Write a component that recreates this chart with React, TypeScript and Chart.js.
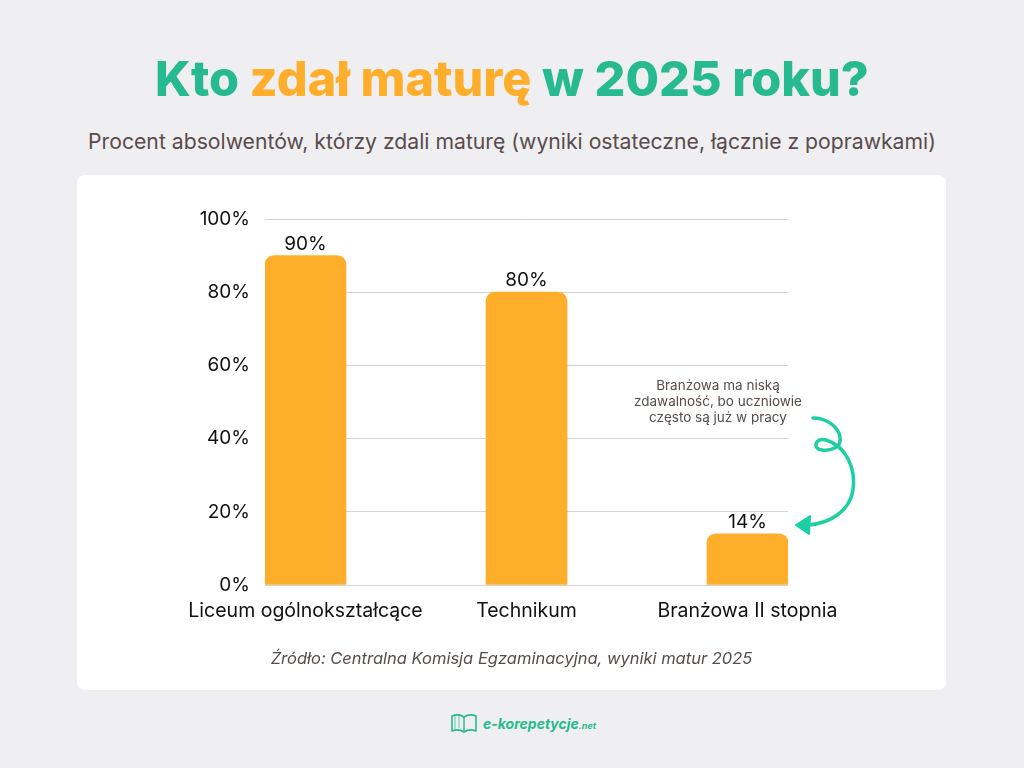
import React, { useEffect, useRef } from "react";
import { Chart, registerables } from "chart.js";

Chart.register(...registerables);

const categories = ["Liceum ogólnokształcące", "Technikum", "Branżowa II stopnia"];
const passRates = [90, 80, 14];
const yTickValues = [0, 20, 40, 60, 80, 100];

const TITLE_GREEN = "#27b98f";
const ORANGE = "#ffae2b";
const TEXT_BROWN = "#5a4b4b";
const TEAL = "#1dcfa3";
const FONT = "Inter, 'DejaVu Sans', sans-serif";

const valueLabelPlugin = {
  id: "valueLabels",
  afterDatasetsDraw(chart: any) {
    const ctx = chart.ctx;
    const meta = chart.getDatasetMeta(0);
    ctx.save();
    ctx.font = `400 19px ${FONT}`;
    ctx.fillStyle = "#111111";
    ctx.textAlign = "center";
    ctx.textBaseline = "alphabetic";
    meta.data.forEach((el: any, i: number) => {
      ctx.fillText(`${passRates[i]}%`, el.x, el.y - 6);
    });
    ctx.restore();
  },
};

function BarChart() {
  const ref = useRef<HTMLCanvasElement | null>(null);
  useEffect(() => {
    if (!ref.current) return;
    const chart = new Chart(ref.current, {
      type: "bar",
      data: {
        datasets: [
          {
            data: passRates.map((v, i) => ({ x: i, y: v })),
            backgroundColor: ORANGE,
            borderRadius: { topLeft: 9, topRight: 9, bottomLeft: 0, bottomRight: 0 },
            borderSkipped: false,
            barThickness: 81,
          } as any,
        ],
      },
      options: {
        animation: false,
        responsive: false,
        maintainAspectRatio: false,
        layout: { padding: { left: 0, right: 158, top: 44, bottom: 0 } },
        plugins: { legend: { display: false }, tooltip: { enabled: false }, title: { display: false } },
        scales: {
          x: {
            type: "linear",
            offset: false,
            min: -0.1833,
            max: 2.1833,
            grid: { display: false, offset: false },
            border: { display: false },
            afterBuildTicks: (scale: any) => {
              scale.ticks = categories.map((_, i) => ({ value: i }));
            },
            afterFit: (scale: any) => {
              scale.height = 105;
            },
            ticks: {
              autoSkip: false,
              maxRotation: 0,
              align: "center",
              padding: 6,
              color: "#111111",
              font: { family: FONT, size: 19.5 },
              callback: (v: any) => categories[Math.round(Number(v))] ?? "",
            },
          },
          y: {
            min: 0,
            max: 100,
            grid: { color: "#d4d4d4", drawTicks: false, lineWidth: 1 },
            border: { display: false },
            afterBuildTicks: (scale: any) => {
              scale.ticks = yTickValues.map((v) => ({ value: v }));
            },
            afterFit: (scale: any) => {
              scale.width = 188;
            },
            ticks: {
              padding: 15,
              color: "#111111",
              font: { family: FONT, size: 19 },
              callback: (v: any) => `${v}%`,
            },
          },
        },
      } as any,
      plugins: [valueLabelPlugin],
    });
    return () => chart.destroy();
  }, []);
  return <canvas ref={ref} width={869} height={515} style={{ position: "absolute", left: 0, top: 0, width: 869, height: 515 }} />;
}

export default function App() {
  return (
    <div
      style={{
        position: "absolute",
        left: 0,
        top: 0,
        width: 1024,
        height: 768,
        background: "#efeff1",
        fontFamily: FONT,
        overflow: "hidden",
      }}
    >
      <div
        style={{
          position: "absolute",
          left: 0,
          top: 47,
          width: 1024,
          textAlign: "center",
          fontSize: 48.5,
          fontWeight: 800,
          letterSpacing: 0,
          lineHeight: "64px",
          color: TITLE_GREEN,
        }}
      >
        Kto <span style={{ color: ORANGE }}>zdał maturę</span> w 2025 roku?
      </div>
      <div
        style={{
          position: "absolute",
          left: 0,
          top: 126,
          width: 1024,
          textAlign: "center",
          fontSize: 21.2,
          fontWeight: 400,
          lineHeight: "30px",
          color: TEXT_BROWN,
        }}
      >
        Procent absolwentów, którzy zdali maturę (wyniki ostateczne, łącznie z poprawkami)
      </div>
      <div
        style={{
          position: "absolute",
          left: 77,
          top: 175,
          width: 869,
          height: 515,
          background: "#ffffff",
          borderRadius: 8,
        }}
      >
        <BarChart />
        <div
          style={{
            position: "absolute",
            left: 718 - 77 - 110,
            top: 377 - 175,
            width: 220,
            textAlign: "center",
            fontSize: 13.5,
            lineHeight: "16px",
            color: TEXT_BROWN,
          }}
        >
          Branżowa ma niską
          <br />
          zdawalność, bo uczniowie
          <br />
          często są już w pracy
        </div>
        <svg
          width={869}
          height={515}
          style={{ position: "absolute", left: 0, top: 0, pointerEvents: "none" }}
          viewBox="77 175 869 515"
        >
          <path
            d="M813 418 C826 418 838 426 840 437 C842 448 830 451 822 450 C812 449 815 437 826 440 C846 446 856 468 853 490 C850 510 832 523 808 525"
            fill="none"
            stroke={TEAL}
            strokeWidth={3.5}
            strokeLinecap="round"
          />
          <path d="M796 525 L810 516 L809 534 Z" fill={TEAL} stroke={TEAL} strokeWidth={2} strokeLinejoin="round" />
        </svg>
        <div
          style={{
            position: "absolute",
            left: 0,
            top: 647 - 175,
            width: 869,
            textAlign: "center",
            fontSize: 16.5,
            fontStyle: "italic",
            lineHeight: "22px",
            color: TEXT_BROWN,
          }}
        >
          Źródło: Centralna Komisja Egzaminacyjna, wyniki matur 2025
        </div>
      </div>
      <div
        style={{
          position: "absolute",
          left: 450,
          top: 710,
          height: 26,
          display: "flex",
          alignItems: "center",
          color: TITLE_GREEN,
        }}
      >
        <svg width={28} height={22} viewBox="0 0 28 22" style={{ marginRight: 5 }}>
          <path d="M2 4 L2 19 C7 17 11 18 14 20 C17 18 21 17 26 19 L26 4 C21 2 17 3 14 5 C11 3 7 2 2 4 Z" fill="none" stroke={TITLE_GREEN} strokeWidth={1.6} strokeLinejoin="round" />
          <path d="M14 5 L14 20" stroke={TITLE_GREEN} strokeWidth={1.4} />
          <path d="M5 3 L5 17 M9 2 L9 16" stroke={TITLE_GREEN} strokeWidth={1} opacity={0.7} />
        </svg>
        <span style={{ fontSize: 14, fontWeight: 700, fontStyle: "italic" }}>e-korepetycje</span>
        <span style={{ fontSize: 9, fontWeight: 700, fontStyle: "italic", marginTop: 4 }}>.net</span>
      </div>
    </div>
  );
}
